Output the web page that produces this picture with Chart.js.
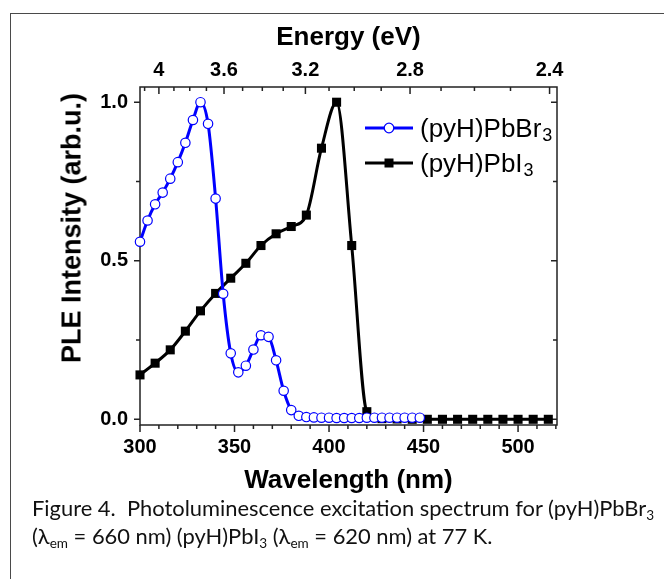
<!DOCTYPE html>
<html>
<head>
<meta charset="utf-8">
<title>PLE spectrum</title>
<script src="https://cdn.jsdelivr.net/npm/chart.js"></script>
<style>
  html, body { margin: 0; padding: 0; background: #fff; }
  body { width: 664px; height: 579px; overflow: hidden; position: relative; }
  #frame { position: absolute; left: 10px; top: 13px; width: 700px; height: 620px; border: 1.5px solid #4a4a4a; }
  #chart { position: absolute; left: 0; top: 0; }
  #ytitle { position: absolute; left: 72px; top: 228px; transform: translate(-50%, -50%) rotate(-90deg);
            font: bold 27px "Liberation Sans", Arial, sans-serif; white-space: nowrap; color: #000; }
  #caption { position: absolute; left: 32px; top: 494px; font-family: Lato, sans-serif; font-size: 21.9px;
             line-height: 28px; color: #111; white-space: pre; }
  #caption sub { font-size: 0.62em; vertical-align: -0.3em; line-height: 0; }
</style>
</head>
<body>

<div id="frame"></div>
<canvas id="chart" width="664" height="500"></canvas>
<div id="ytitle">PLE Intensity (arb.u.)</div>
<div id="caption"><span id="cap1">Figure 4.  Photoluminescence excitation spectrum for (pyH)PbBr<sub>3</sub></span>
<span id="cap2">(λ<sub>em</sub> = 660 nm) (pyH)PbI<sub>3</sub> (λ<sub>em</sub> = 620 nm) at 77 K.</span></div>

<script>
  // (pyH)PbBr3 - open blue circles
  const brWavelength = [300, 304, 308, 312, 316, 320, 324, 328, 332, 336, 340, 344, 348, 352, 356, 360, 364, 368, 372,
                        376, 380, 384, 388, 392, 396, 400, 404, 408, 412, 416, 420, 424, 428, 432, 436, 440, 444, 448];
  const brIntensity = [0.560, 0.627, 0.678, 0.715, 0.759, 0.811, 0.872, 0.944, 1.000, 0.932, 0.696, 0.396, 0.208, 0.148,
                       0.169, 0.220, 0.265, 0.260, 0.186, 0.090, 0.029, 0.011, 0.007, 0.006, 0.005, 0.005, 0.004, 0.004,
                       0.004, 0.004, 0.005, 0.005, 0.005, 0.005, 0.005, 0.005, 0.005, 0.005];

  // (pyH)PbI3 - filled black squares
  const iWavelength = [300, 308, 316, 324, 332, 340, 348, 356, 364, 372, 380, 388, 396, 404, 412, 420, 428, 436,
                       444, 452, 460, 468, 476, 484, 492, 500, 508, 516];
  const iIntensity = [0.140, 0.177, 0.219, 0.278, 0.342, 0.397, 0.445, 0.492, 0.548, 0.585, 0.608, 0.644, 0.855, 1.000,
                      0.548, 0.024, 0.002, 0.001, 0.000, 0.000, 0.000, 0.000, 0.000, 0.000, 0.000, 0.000, 0.000, 0.000];

  // axes
  const wlTicks = [300, 350, 400, 450, 500];
  const wlLabels = ['300', '350', '400', '450', '500'];
  const energyTicks = [4, 3.6, 3.2, 2.8, 2.4];
  const energyLabels = ['4', '3.6', '3.2', '2.8', '2.4'];
  const yTicks = [0, 0.5, 1.0];
  const yLabels = ['0.0', '0.5', '1.0'];

  const FONT = '"Liberation Sans", Arial, sans-serif';

  // frame + tick marks (bottom/left outward, top/right inward)
  const frameTicks = {
    id: 'frameTicks',
    beforeDatasetsDraw(chart) {
      const { ctx, chartArea: a, scales } = chart;
      const x = scales.x, y = scales.y;
      ctx.save();
      ctx.strokeStyle = '#222';
      ctx.lineWidth = 1.5;
      ctx.strokeRect(a.left, a.top, a.right - a.left, a.bottom - a.top);
      ctx.beginPath();
      for (let v = 310; v <= 520; v += 10) {
        const px = x.getPixelForValue(v);
        const len = wlTicks.includes(v) ? 7 : 4;
        ctx.moveTo(px, a.bottom); ctx.lineTo(px, a.bottom + len);
      }
      ctx.moveTo(x.getPixelForValue(300), a.bottom); ctx.lineTo(x.getPixelForValue(300), a.bottom + 7);
      for (let k = 41; k >= 24; k--) {
        const e = k / 10;
        const px = x.getPixelForValue(1240 / e);
        if (px < a.left || px > a.right) continue;
        const len = energyTicks.includes(e) ? 7 : 4;
        ctx.moveTo(px, a.top); ctx.lineTo(px, a.top + len);
      }
      [0, 0.25, 0.5, 0.75, 1.0].forEach(v => {
        const py = y.getPixelForValue(v);
        const len = yTicks.includes(v) ? 6 : 4;
        ctx.moveTo(a.left, py); ctx.lineTo(a.left - len, py);
        ctx.moveTo(a.right, py); ctx.lineTo(a.right - len, py);
      });
      ctx.stroke();
      ctx.restore();
    }
  };

  // legend in the upper right of the plot
  const legendBox = {
    id: 'legendBox',
    afterDatasetsDraw(chart) {
      const { ctx, chartArea: a } = chart;
      const x0 = a.right - 192, x1 = a.right - 144, xm = a.right - 168;
      const rows = [a.top + 41, a.top + 76];
      ctx.save();
      chart.data.datasets.forEach((ds, i) => {
        const yy = rows[i];
        ctx.strokeStyle = ds.borderColor;
        ctx.lineWidth = 3;
        ctx.beginPath(); ctx.moveTo(x0, yy); ctx.lineTo(x1, yy); ctx.stroke();
        if (i === 0) {
          ctx.fillStyle = '#fff'; ctx.lineWidth = 1.3;
          ctx.beginPath(); ctx.arc(xm, yy, 4.8, 0, Math.PI * 2); ctx.fill(); ctx.stroke();
        } else {
          ctx.fillStyle = '#000';
          ctx.fillRect(xm - 4.5, yy - 4.5, 9, 9);
        }
        ctx.fillStyle = '#000';
        ctx.textBaseline = 'alphabetic';
        ctx.font = '26px ' + FONT;
        const main = ds.label.slice(0, -1);
        ctx.fillText(main, x1 + 7, yy + 9);
        const w = ctx.measureText(main).width;
        ctx.font = '18px ' + FONT;
        ctx.fillText('3', x1 + 7 + w + 1, yy + 13);
      });
      ctx.restore();
    }
  };

  const tickFont = { family: FONT, size: 20, weight: 'bold' };
  const titleFont = { family: FONT, size: 26, weight: 'bold' };

  new Chart(document.getElementById('chart'), {
    type: 'line',
    data: {
      datasets: [{
        label: '(pyH)PbBr3',
        data: brWavelength.map((x, i) => ({ x: x, y: brIntensity[i] })),
        borderColor: '#0000ff',
        borderWidth: 3,
        pointStyle: 'circle',
        pointRadius: 4.7,
        pointBackgroundColor: '#ffffff',
        pointBorderColor: '#0000ff',
        pointBorderWidth: 1.2,
        cubicInterpolationMode: 'monotone',
        clip: false
      }, {
        label: '(pyH)PbI3',
        data: iWavelength.map((x, i) => ({ x: x, y: iIntensity[i] })),
        borderColor: '#000000',
        borderWidth: 3,
        pointStyle: 'rect',
        pointRadius: 6.4,
        pointBackgroundColor: '#000000',
        pointBorderColor: '#000000',
        pointBorderWidth: 0,
        cubicInterpolationMode: 'monotone',
        clip: false
      }]
    },
    options: {
      responsive: false,
      animation: false,
      devicePixelRatio: 1,
      layout: { padding: { left: 0, top: 0, right: 107, bottom: 0 } },
      plugins: { legend: { display: false }, tooltip: { enabled: false } },
      scales: {
        x: {
          type: 'linear', position: 'bottom', min: 300, max: 520.6,
          afterFit: s => { s.height = 75; },
          afterBuildTicks: s => { s.ticks = wlTicks.map(v => ({ value: v })); },
          grid: { display: false, drawTicks: false },
          border: { display: false },
          ticks: { padding: 10, font: tickFont, color: '#000', autoSkip: false, maxRotation: 0,
                   callback: (v, i) => wlLabels[i] },
          title: { display: true, text: 'Wavelength (nm)', font: titleFont, color: '#000',
                   padding: { top: 0, bottom: 4 } }
        },
        xTop: {
          type: 'linear', position: 'top', min: 300, max: 520.6,
          afterFit: s => { s.height = 87; },
          afterBuildTicks: s => { s.ticks = energyTicks.map(e => ({ value: 1240 / e })); },
          grid: { display: false, drawTicks: false },
          border: { display: false },
          ticks: { padding: 5, font: tickFont, color: '#000', autoSkip: false, maxRotation: 0,
                   callback: (v, i) => energyLabels[i] },
          title: { display: true, text: 'Energy (eV)', font: titleFont, color: '#000',
                   padding: { top: 22, bottom: 0 } }
        },
        y: {
          type: 'linear', position: 'left', min: -0.018, max: 1.048,
          afterFit: s => { s.width = 140; },
          afterBuildTicks: s => { s.ticks = yTicks.map(v => ({ value: v })); },
          grid: { display: false, drawTicks: false },
          border: { display: false },
          ticks: { padding: 12, font: tickFont, color: '#000', autoSkip: false,
                   callback: (v, i) => yLabels[i] }
        }
      }
    },
    plugins: [frameTicks, legendBox]
  });
</script>

</body>
</html>
